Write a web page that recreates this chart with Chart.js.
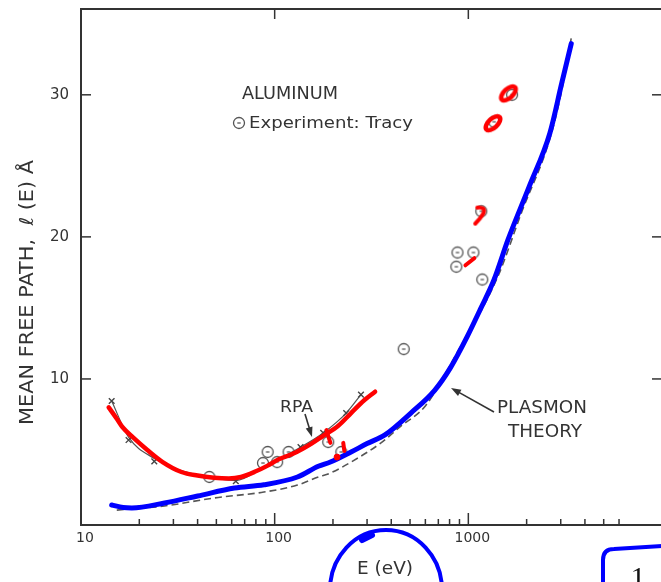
<!DOCTYPE html>
<html>
<head>
<meta charset="utf-8">
<script src="https://cdn.jsdelivr.net/npm/chart.js@4.4.1/dist/chart.umd.min.js"></script>
<style>
  html, body { margin: 0; padding: 0; background: #fff; overflow: hidden; }
</style>
</head>
<body>
<canvas id="mfp" width="668" height="582"></canvas>
<script>
// E in eV, mean free path in angstrom
const xTickValues = [10, 20, 30, 40, 50, 60, 70, 80, 90, 100, 200, 300, 400, 500, 600, 700, 800, 900, 1000, 2000, 3000, 4000, 5000, 6000];
const xMajorTicks = [10, 100, 1000];
const yTickValues = [10, 20, 30];

// plasmon theory, traced over in blue
const plasmonE = [14.4, 16.5, 18.3, 27, 40, 62, 88, 131, 168, 194, 248, 300, 371, 505, 670, 809, 988, 1153, 1359, 1603, 2056, 2636, 3034, 3400];
const plasmonL = [1.13, 0.95, 0.92, 1.27, 1.76, 2.32, 2.55, 3.1, 3.85, 4.15, 4.86, 5.45, 6.06, 7.6, 9.2, 10.8, 13.0, 14.9, 17.0, 19.8, 23.5, 27.3, 30.8, 33.6];

// original dashed theory curve
const theoryE = [15.3, 27, 48.6, 88, 131, 168, 194, 248, 354, 450, 600, 879, 1409, 1892, 2636, 3034, 3400];
const theoryL = [0.77, 1.06, 1.62, 2.04, 2.53, 3.1, 3.38, 4.15, 5.5, 6.7, 8.1, 11.9, 17.1, 21.8, 26.9, 30.3, 34.0];

// RPA crosses and the thin line through them
const rpaE = [14.4, 17.6, 23.9, 63, 136, 178, 234, 279];
const rpaL = [8.45, 5.7, 4.2, 2.8, 5.2, 6.2, 7.6, 8.9];
const rpaLineE = [14.4, 17.6, 23.9, 30, 40, 50, 63, 90, 136, 178, 234, 279];
const rpaLineL = [8.45, 5.9, 4.4, 3.75, 3.25, 3.0, 2.85, 3.9, 5.2, 6.2, 7.6, 8.9];

// red hand trace over RPA
const redE = [13.9, 15.3, 16.4, 18.5, 22, 26.4, 33, 40, 48.6, 58, 67, 80, 92, 105, 125, 155, 178, 213, 248, 290, 330];
const redL = [8.0, 7.2, 6.6, 5.9, 5.0, 4.15, 3.45, 3.2, 3.05, 3.0, 3.1, 3.5, 3.9, 4.35, 4.75, 5.45, 6.0, 6.7, 7.6, 8.5, 9.1];

// experiment: Tracy
const tracyE = [46, 87, 92, 103, 118, 189, 221, 464, 867, 879, 1062, 1166, 1180, 1359, 1682];
const tracyL = [3.1, 4.08, 4.86, 4.15, 4.86, 5.56, 4.86, 12.1, 17.9, 18.9, 18.9, 21.8, 17.0, 28.1, 30.0];

// red pen marks
const ovalE = [1610, 1340];
const ovalL = [30.1, 28.0];
const hookE = [1153];
const hookL = [21.5];
const dashE = [966, 1074];
const dashL = [18.0, 18.5];
const tickAE = [185, 194];
const tickAL = [6.4, 5.5];
const tickBE = [226, 229];
const tickBL = [5.5, 4.93];
const dotE = [210];
const dotL = [4.5];

const pts = (xs, ys) => xs.map((x, i) => ({ x: x, y: ys[i] }));

function circleMark() {
  const c = document.createElement('canvas');
  c.width = 16; c.height = 16;
  const g = c.getContext('2d');
  g.strokeStyle = '#555';
  g.lineWidth = 1.3;
  g.beginPath(); g.arc(8, 8, 5.5, 0, Math.PI * 2); g.stroke();
  g.beginPath(); g.moveTo(6.3, 8); g.lineTo(9.7, 8); g.stroke();
  return c;
}

function ovalMark() {
  const c = document.createElement('canvas');
  c.width = 28; c.height = 28;
  const g = c.getContext('2d');
  g.strokeStyle = '#ff0000';
  g.lineWidth = 4.5;
  g.beginPath(); g.ellipse(14, 14, 9, 4.5, -0.75, 0, Math.PI * 2); g.stroke();
  return c;
}

function hookMark() {
  const c = document.createElement('canvas');
  c.width = 22; c.height = 26;
  const g = c.getContext('2d');
  g.strokeStyle = '#ff0000';
  g.lineWidth = 4;
  g.lineCap = 'round';
  g.beginPath();
  g.moveTo(8, 5);
  g.quadraticCurveTo(17, 4, 14, 11);
  g.quadraticCurveTo(11, 16, 6, 21);
  g.stroke();
  return c;
}

const tracyIcon = circleMark();

function fitText(ctx, text, x, y, w, font) {
  ctx.save();
  ctx.font = font;
  const m = ctx.measureText(text).width;
  ctx.translate(x, y);
  ctx.scale(w / m, 1);
  ctx.textAlign = 'left';
  ctx.textBaseline = 'alphabetic';
  ctx.fillText(text, 0, 0);
  ctx.restore();
}

function arrow(ctx, x1, y1, x2, y2) {
  const a = Math.atan2(y2 - y1, x2 - x1);
  ctx.beginPath(); ctx.moveTo(x1, y1); ctx.lineTo(x2 - 6 * Math.cos(a), y2 - 6 * Math.sin(a)); ctx.stroke();
  ctx.beginPath();
  ctx.moveTo(x2, y2);
  ctx.lineTo(x2 - 10 * Math.cos(a) + 3.5 * Math.sin(a), y2 - 10 * Math.sin(a) - 3.5 * Math.cos(a));
  ctx.lineTo(x2 - 10 * Math.cos(a) - 3.5 * Math.sin(a), y2 - 10 * Math.sin(a) + 3.5 * Math.cos(a));
  ctx.closePath(); ctx.fill();
}

const framePlugin = {
  id: 'frame',
  afterDatasetsDraw(chart) {
    const ctx = chart.ctx;
    const { left, right, top, bottom } = chart.chartArea;
    const xs = chart.scales.x, ys = chart.scales.y;
    ctx.save();
    ctx.strokeStyle = '#333';
    ctx.lineWidth = 2;
    ctx.strokeRect(left, top, right - left, bottom - top);
    ctx.lineWidth = 1.5;
    xs.ticks.forEach(t => {
      const px = xs.getPixelForValue(t.value);
      const major = xMajorTicks.includes(t.value);
      ctx.beginPath(); ctx.moveTo(px, bottom); ctx.lineTo(px, bottom - (major ? 12 : 6)); ctx.stroke();
      if (major && t.value !== 10) {
        ctx.beginPath(); ctx.moveTo(px, top); ctx.lineTo(px, top + 10); ctx.stroke();
      }
    });
    ys.ticks.forEach(t => {
      const py = ys.getPixelForValue(t.value);
      ctx.beginPath(); ctx.moveTo(left, py); ctx.lineTo(left + 10, py); ctx.stroke();
      ctx.beginPath(); ctx.moveTo(right, py); ctx.lineTo(right - 10, py); ctx.stroke();
    });
    ctx.restore();
  }
};

const notesPlugin = {
  id: 'notes',
  afterDraw(chart) {
    const ctx = chart.ctx;
    ctx.save();
    ctx.fillStyle = '#333';
    ctx.strokeStyle = '#333';
    fitText(ctx, 'ALUMINUM', 242, 99, 96, '18px "DejaVu Sans"');
    ctx.drawImage(tracyIcon, 231, 115);
    fitText(ctx, 'Experiment: Tracy', 249, 128, 164, '16px "DejaVu Sans"');
    fitText(ctx, 'RPA', 280, 412, 33, '16px "DejaVu Sans"');
    fitText(ctx, 'PLASMON', 497, 413, 90, '17px "DejaVu Sans"');
    fitText(ctx, 'THEORY', 508, 437, 74, '17px "DejaVu Sans"');
    fitText(ctx, 'E (eV)', 357, 574, 56, '17px "DejaVu Sans"');
    ctx.lineWidth = 1.6;
    arrow(ctx, 305, 414, 312, 437);
    arrow(ctx, 494, 412, 451, 388);

    // y axis title
    ctx.save();
    ctx.translate(33, 425);
    ctx.rotate(-Math.PI / 2);
    fitText(ctx, 'MEAN FREE PATH,  \u2113 (E) \u00C5', 0, 0, 265, '19px "DejaVu Sans"');
    ctx.restore();

    // blue pen marks at the bottom
    ctx.strokeStyle = '#0000ff';
    ctx.lineWidth = 4;
    ctx.lineCap = 'round';
    ctx.beginPath(); ctx.ellipse(386, 590, 56, 60, 0, 0, Math.PI * 2); ctx.stroke();
    ctx.lineWidth = 6;
    ctx.beginPath(); ctx.moveTo(362, 540); ctx.lineTo(372, 535); ctx.stroke();
    ctx.lineWidth = 4;
    ctx.beginPath();
    ctx.moveTo(603, 584);
    ctx.lineTo(603, 560);
    ctx.quadraticCurveTo(603, 549, 614, 549);
    ctx.lineTo(662, 546);
    ctx.stroke();
    ctx.fillStyle = '#111';
    ctx.font = '30px "Liberation Serif"';
    ctx.textAlign = 'center';
    ctx.fillText('1', 638, 587);
    ctx.restore();
  }
};

const lineSet = (data, color, width, order, extra) => Object.assign({
  data: data, showLine: true, borderColor: color, backgroundColor: color, borderWidth: width,
  pointRadius: 0, cubicInterpolationMode: 'monotone', order: order
}, extra || {});

new Chart(document.getElementById('mfp'), {
  type: 'scatter',
  data: {
    datasets: [
      lineSet(pts(theoryE, theoryL), '#555', 1.6, 6, { borderDash: [7, 4] }),
      lineSet(pts(rpaLineE, rpaLineL), '#555', 1.2, 6),
      { data: pts(rpaE, rpaL), pointStyle: 'crossRot', pointRadius: 4, borderColor: '#444', borderWidth: 1.4, order: 5 },
      { data: pts(tracyE, tracyL), pointStyle: tracyIcon, pointRadius: 5, order: 5 },
      lineSet(pts(plasmonE, plasmonL), '#0000ff', 5, 2, { borderCapStyle: 'round' }),
      lineSet(pts(redE, redL), '#ff0000', 4.5, 2, { borderCapStyle: 'round' }),
      { data: pts(ovalE, ovalL), pointStyle: ovalMark(), pointRadius: 5, order: 1 },
      { data: pts(hookE, hookL), pointStyle: hookMark(), pointRadius: 5, order: 1 },
      lineSet(pts(dashE, dashL), '#ff0000', 4, 1, { borderCapStyle: 'round', cubicInterpolationMode: 'default' }),
      lineSet(pts(tickAE, tickAL), '#ff0000', 4, 1, { borderCapStyle: 'round', cubicInterpolationMode: 'default' }),
      lineSet(pts(tickBE, tickBL), '#ff0000', 4, 1, { borderCapStyle: 'round', cubicInterpolationMode: 'default' }),
      { data: pts(dotE, dotL), pointStyle: 'circle', pointRadius: 3, backgroundColor: '#ff0000', borderColor: '#ff0000', order: 1 }
    ]
  },
  options: {
    responsive: false,
    animation: false,
    devicePixelRatio: 1,
    layout: { padding: { top: 9, right: 2, bottom: 0, left: 0 } },
    plugins: { legend: { display: false }, tooltip: { enabled: false } },
    scales: {
      x: {
        type: 'logarithmic',
        min: 10,
        max: 10000,
        grid: { display: false, drawTicks: false },
        border: { display: false },
        afterBuildTicks: s => { s.ticks = xTickValues.map(v => ({ value: v })); },
        afterFit: s => { s.height = 57; s.paddingLeft = 0; s.paddingRight = 0; },
        ticks: {
          autoSkip: false, maxRotation: 0, minRotation: 0, padding: 6, labelOffset: 4,
          color: '#333', font: { family: 'DejaVu Sans', size: 14, lineHeight: 1 },
          callback: v => xMajorTicks.includes(v) ? String(v) : ''
        }
      },
      y: {
        type: 'linear',
        min: -0.28,
        max: 36.04,
        grid: { display: false, drawTicks: false },
        border: { display: false },
        afterBuildTicks: s => { s.ticks = yTickValues.map(v => ({ value: v })); },
        afterFit: s => { s.width = 81; s.paddingTop = 0; s.paddingBottom = 0; },
        ticks: {
          padding: 12, color: '#333', font: { family: 'DejaVu Sans', size: 15, lineHeight: 1 }
        }
      }
    }
  },
  plugins: [framePlugin, notesPlugin]
});
</script>
</body>
</html>
